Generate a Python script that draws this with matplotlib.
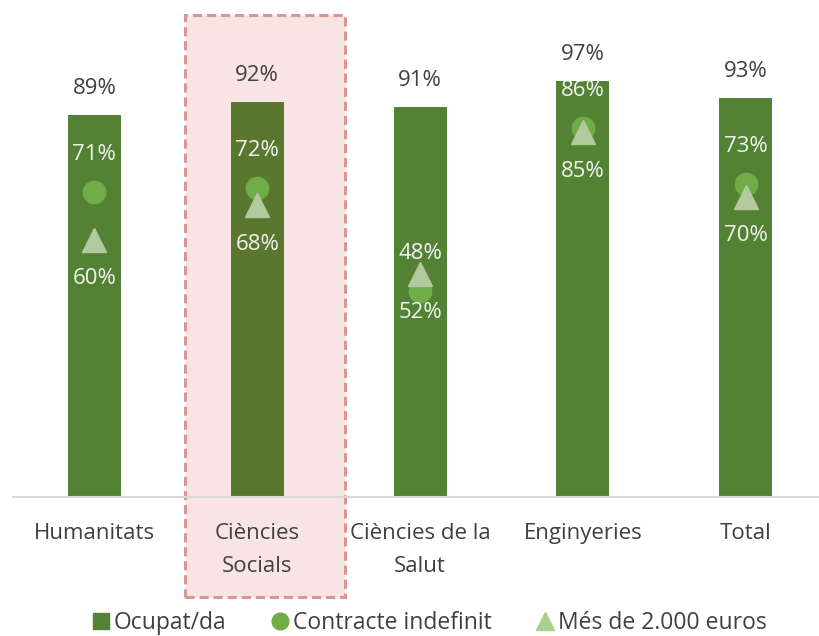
import matplotlib.pyplot as plt
import matplotlib.patches as mpatches
from matplotlib.lines import Line2D
import numpy as np

plt.rcParams['font.family'] = ['Open Sans', 'DejaVu Sans']

categories = ["Humanitats", "Ciències\nSocials", "Ciències de la\nSalut", "Enginyeries", "Total"]
ocupat = [89, 92, 91, 97, 93]
indefinit = [71, 72, 48, 86, 73]
mes_2000 = [60, 68, 52, 85, 70]

bar_color = '#548235'
highlight_bar = '#5a782d'
circle_color = '#70ad47'
tri_color = '#b3c99e'
text_dark = '#404040'

fig = plt.figure(figsize=(8.19, 6.36), dpi=100)

# highlighted column (Ciències Socials)
rect = mpatches.Rectangle((185 / 819, 1 - 597 / 636), 160 / 819, 582 / 636,
                          transform=fig.transFigure, facecolor='#f9e4e4', edgecolor='#d99694',
                          linestyle=(0, (3, 1.6)), linewidth=2.2, zorder=-1)
fig.patches.append(rect)

ax = fig.add_axes([13 / 819, 139 / 636, 806 / 819, 497 / 636])
ax.patch.set_alpha(0)

x = np.arange(len(categories))
colors = [bar_color] * len(categories)
colors[1] = highlight_bar
ax.bar(x, ocupat, width=53 / 163, color=colors, zorder=2)
ax.plot(x, indefinit, 'o', color=circle_color, markersize=16, zorder=3)
ax.plot(x, mes_2000, '^', color=tri_color, markersize=17, zorder=4)

fs = 16
for i in range(len(x)):
    ax.annotate(f"{ocupat[i]}%", (x[i], ocupat[i]), xytext=(0, 19), textcoords='offset points',
                ha='center', va='center', fontsize=fs, color=text_dark)
    ax.annotate(f"{indefinit[i]}%", (x[i], indefinit[i]), xytext=(0, 27), textcoords='offset points',
                ha='center', va='center', fontsize=fs, color='#f2f2f2', zorder=5)
    ax.annotate(f"{mes_2000[i]}%", (x[i], mes_2000[i]), xytext=(0, -28), textcoords='offset points',
                ha='center', va='center', fontsize=fs, color='#f2f2f2', zorder=5)

ax.set_xlim(-0.5, 4.45)
ax.set_ylim(0, 497 / 4.29)
ax.set_xticks(x)
ax.set_xticklabels(categories, fontsize=fs, color=text_dark, linespacing=1.7)
ax.tick_params(axis='x', length=0, pad=19)
ax.set_yticks([])
for s in ['top', 'right', 'left']:
    ax.spines[s].set_visible(False)
ax.spines['bottom'].set_color('#d9d9d9')
ax.spines['bottom'].set_linewidth(1.5)

handles = [
    mpatches.Patch(color=bar_color, label='Ocupat/da'),
    Line2D([], [], marker='o', linestyle='', color=circle_color, markersize=12, label='Contracte indefinit'),
    Line2D([], [], marker='^', linestyle='', color='#a9d08e', markersize=13, label='Més de 2.000 euros'),
]
fig.legend(handles=handles, loc='center', bbox_to_anchor=(0.525, 1 - 623 / 636), ncol=3,
           frameon=False, fontsize=16.5, handlelength=0.7, handletextpad=0.2, columnspacing=2.0,
           labelcolor=text_dark)

fig.savefig('out.png', dpi=100)
